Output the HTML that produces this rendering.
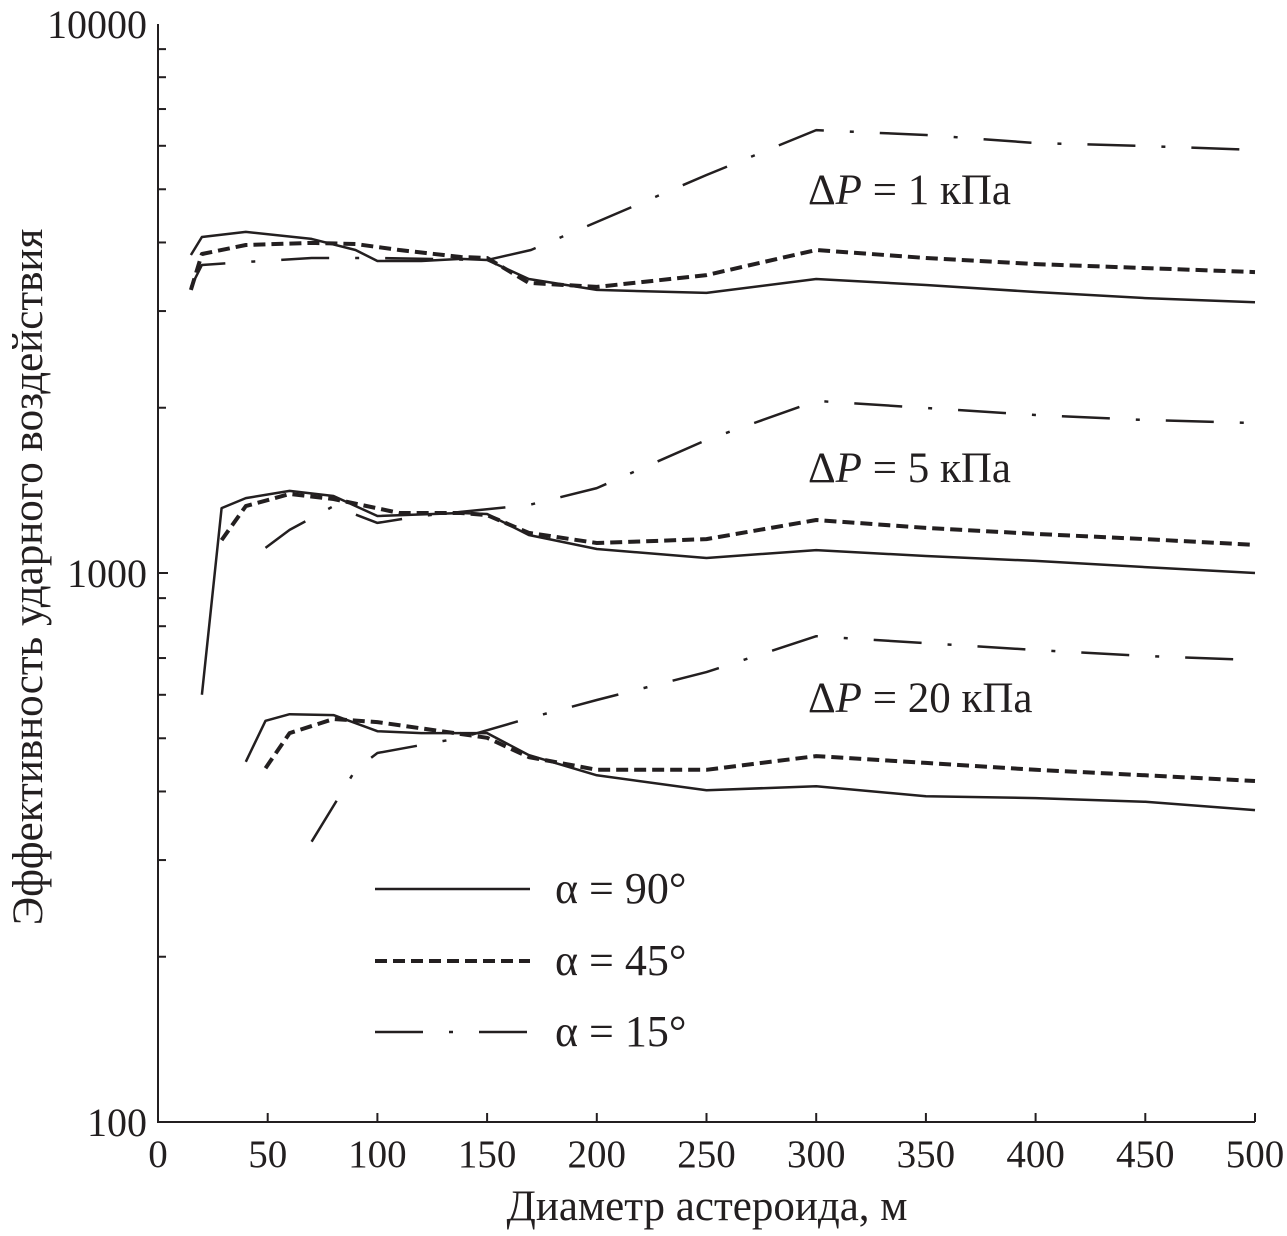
<!DOCTYPE html>
<html><head><meta charset="utf-8"><style>
html,body{margin:0;padding:0;background:#fff;}
svg text{font-family:"Liberation Serif","DejaVu Serif",serif;fill:#231f20;}
</style></head><body>
<svg id="chart" width="1287" height="1231" viewBox="0 0 1287 1231" xmlns="http://www.w3.org/2000/svg"></svg>
<script>
const xTicks=[0,50,100,150,200,250,300,350,400,450,500];
const yTickLabels=[100,1000,10000];
// 1 kPa
const x1_90=[15,20,40,70,90,100,120,138,150,169,200,250,300,350,400,450,500];
const v1_90=[3795,4093,4181,4061,3875,3701,3701,3733,3717,3432,3278,3237,3432,3347,3250,3168,3114];
const x1_45=[15,20,40,70,90,110,138,150,169,200,250,300,350,400,450,500];
const v1_45=[3278,3811,3958,3992,3975,3875,3764,3747,3376,3320,3489,3875,3747,3653,3593,3533];
const x1_15=[15,20,40,70,100,150,170,200,250,300,350,400,450,500];
const v1_15=[3320,3640,3686,3747,3747,3717,3875,4358,5309,6409,6279,6071,5996,5897];
// 5 kPa
const x5_90=[20,29,40,60,80,100,138,150,169,200,250,300,350,400,450,500];
const v5_90=[600,1313,1369,1411,1381,1270,1286,1281,1173,1106,1065,1101,1074,1052,1025,1000];
const x5_45=[29,40,60,80,110,138,150,169,200,250,300,350,400,450,500];
const v5_45=[1148,1324,1393,1364,1286,1286,1275,1183,1134,1153,1249,1208,1178,1153,1125];
const x5_15=[49,60,80,100,120,138,169,200,250,300,350,400,450,500];
const v5_15=[1111,1198,1324,1234,1270,1292,1330,1428,1747,2058,1998,1940,1900,1876];
// 20 kPa
const x20_90=[40,49,60,80,100,120,138,150,169,200,250,300,350,400,450,500];
const v20_90=[453,538,553,551,515,511,511,511,466,428,402,409,392,389,383,370];
const x20_45=[49,60,80,100,138,150,169,200,250,300,350,400,450,500];
const v20_45=[441,511,542,535,509,501,462,438,438,464,451,438,428,418];
const x20_15=[70,90,100,138,169,200,250,300,350,400,450,500];
const v20_15=[324,438,470,501,544,587,660,767,745,724,706,694];

const NS="http://www.w3.org/2000/svg";
const svg=document.getElementById('chart');
const X0=158,X1=1255,YT=24,YB=1122;
const xs=v=>X0+(v/500)*(X1-X0);
const ys=v=>YB-(Math.log10(v)-2)/2*(YB-YT);
function mk(tag,at){const e=document.createElementNS(NS,tag);for(const k in at)e.setAttribute(k,at[k]);svg.appendChild(e);return e;}

let ax=mk('path',{d:`M${X0},${YT}V${YB}H${X1}`,stroke:'#231f20','stroke-width':2,fill:'none'});



xTicks.forEach(t=>{
 const l=mk('line',{x1:xs(t),x2:xs(t),y1:YB,y2:YB-9,stroke:'#231f20','stroke-width':2});
 
 
 const tx=mk('text',{x:xs(t),y:1167,'text-anchor':'middle','font-size':39});
 tx.textContent=t;
 
 
});
for(let d=100;d<10000;d*=10){for(let m=1;m<10;m++){const v=d*m;
 const l=mk('line',{x1:X0,x2:X0+(m===1?10:8),y1:ys(v),y2:ys(v),stroke:'#231f20','stroke-width':2});
 
 }}
yTickLabels.forEach(t=>{
 const tx=mk('text',{x:147,y:ys(t)+14,'text-anchor':'end','font-size':40});
 tx.textContent=t;
 
 
});
let xl=mk('text',{x:707,y:1220,'text-anchor':'middle','font-size':43});
xl.textContent='Диаметр астероида, м';


let yl=mk('text',{x:0,y:0,'text-anchor':'middle','font-size':43,transform:'translate(42,577) rotate(-90)'});
yl.textContent='Эффективность ударного воздействия';



const styles={s90:{w:2.5,d:''},s45:{w:4,d:'12 6'},s15:{w:2.5,d:'48 26 4 26'}};
function series(xa,va,st,name){
 const d=xa.map((x,i)=>(i?'L':'M')+xs(x).toFixed(1)+','+ys(va[i]).toFixed(1)).join('');
 const p=mk('path',{d:d,fill:'none',stroke:'#231f20','stroke-width':styles[st].w,'stroke-dasharray':styles[st].d,'stroke-linejoin':'round'});
 
 
}
series(x1_90,v1_90,'s90','line-1kpa-90');series(x1_45,v1_45,'s45','line-1kpa-45');series(x1_15,v1_15,'s15','line-1kpa-15');
series(x5_90,v5_90,'s90','line-5kpa-90');series(x5_45,v5_45,'s45','line-5kpa-45');series(x5_15,v5_15,'s15','line-5kpa-15');
series(x20_90,v20_90,'s90','line-20kpa-90');series(x20_45,v20_45,'s45','line-20kpa-45');series(x20_15,v20_15,'s15','line-20kpa-15');

[['1',204],['5',482],['20',712]].forEach(([p,y])=>{
 const t=mk('text',{x:808,y:y,'font-size':43});
 t.innerHTML='Δ<tspan font-style="italic">P</tspan> = '+p+' кПа';
 
 
});
[['s90',889,'α = 90°'],['s45',961,'α = 45°'],['s15',1032,'α = 15°']].forEach(([st,y,txt])=>{
 const l=mk('line',{x1:375,x2:530,y1:y,y2:y,stroke:'#231f20','stroke-width':styles[st].w,'stroke-dasharray':styles[st].d});
 
 
 const t=mk('text',{x:555,y:y+14,'font-size':44});
 t.textContent=txt;
 
 
});
</script>
</body></html>
